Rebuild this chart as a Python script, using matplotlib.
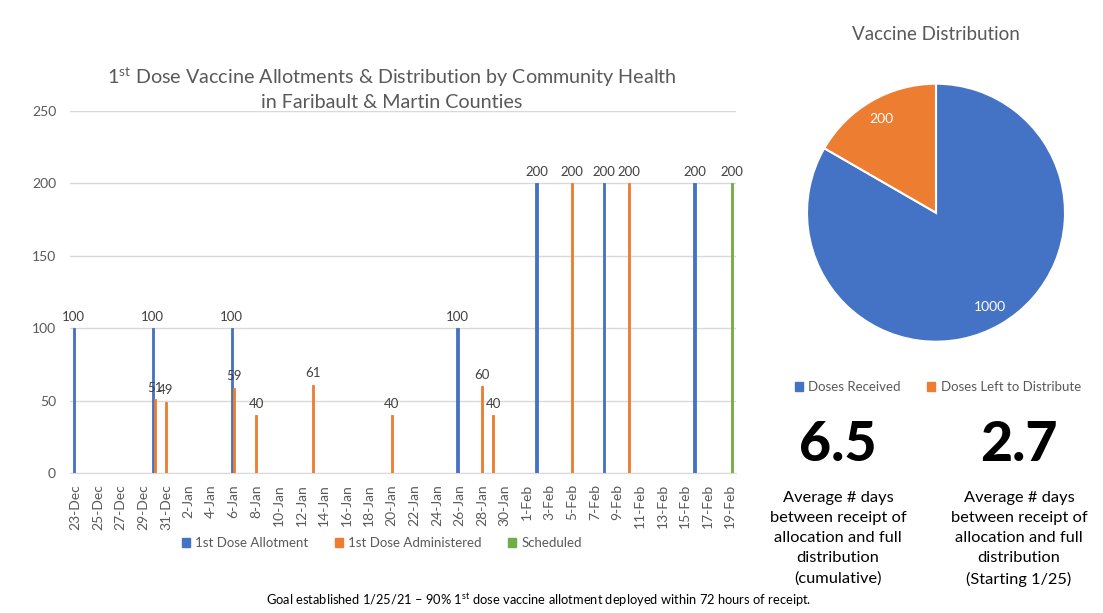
import matplotlib
matplotlib.use("Agg")
import matplotlib.pyplot as plt
from matplotlib.patches import Patch
import pandas as pd

# ---- data ----
categories = [d.strftime('%d-%b').lstrip('0') for d in pd.date_range('2020-12-23', '2021-02-19')]
allot_dates = ['23-Dec', '30-Dec', '6-Jan', '26-Jan', '2-Feb', '8-Feb', '16-Feb']
allot_vals = [100, 100, 100, 100, 200, 200, 200]
admin_dates = ['30-Dec', '31-Dec', '6-Jan', '8-Jan', '13-Jan', '20-Jan', '28-Jan', '29-Jan', '5-Feb', '10-Feb']
admin_vals = [51, 49, 59, 40, 61, 40, 60, 40, 200, 200]
sched_dates = ['19-Feb']
sched_vals = [200]
series_names = ['1st Dose Allotment', '1st Dose Administered', 'Scheduled']

pie_labels = ['Doses Received', 'Doses Left to Distribute']
pie_vals = [1000, 200]

stat_vals = ['6.5', '2.7']
stat_texts = ['Average # days\nbetween receipt of\nallocation and full\ndistribution\n(cumulative)',
              'Average # days\nbetween receipt of\nallocation and full\ndistribution\n(Starting 1/25)']

BLUE, ORANGE, GREEN = '#4472C4', '#ED7D31', '#70AD47'
GRAY = '#595959'

plt.rcParams['font.family'] = ['Lato', 'DejaVu Sans']
plt.rcParams['mathtext.fontset'] = 'custom'
plt.rcParams['mathtext.rm'] = 'Lato'
plt.rcParams['mathtext.it'] = 'Lato:italic'
plt.rcParams['mathtext.bf'] = 'Lato:bold'

W, H = 1103, 613
fig = plt.figure(figsize=(W / 100, H / 100), dpi=100)

def fx(x): return x / W
def fy(y): return 1 - y / H

# ---- bar chart ----
ax = fig.add_axes([fx(70), fy(473), fx(736) - fx(70), fy(111) - fy(473)])
idx = {c: i for i, c in enumerate(categories)}
bw = 0.2
for dates, vals, col, off in [(allot_dates, allot_vals, BLUE, -0.17),
                               (admin_dates, admin_vals, ORANGE, 0.0),
                               (sched_dates, sched_vals, GREEN, 0.15)]:
    xs = [idx[d] + off for d in dates]
    ax.bar(xs, vals, width=bw, color=col, edgecolor=col, linewidth=0.6, zorder=3)
    for x, v in zip(xs, vals):
        ax.annotate(str(v), (x, v), xytext=(0, 4), textcoords='offset points',
                    ha='center', va='bottom', fontsize=9.5, color='#404040')

ax.set_xlim(-0.5, len(categories) - 0.5)
ax.set_ylim(0, 250)
ax.set_yticks([0, 50, 100, 150, 200, 250])
ax.set_xticks(range(0, len(categories), 2))
ax.set_xticklabels(categories[::2], rotation=90, fontsize=10, color=GRAY)
ax.tick_params(axis='y', labelsize=10, colors=GRAY, length=0, pad=10)
ax.tick_params(axis='x', length=0, pad=8)
ax.grid(axis='y', color='#D9D9D9', linewidth=1, zorder=0)
for s in ['top', 'right', 'left']:
    ax.spines[s].set_visible(False)
ax.spines['bottom'].set_color('#D9D9D9')

fig.text(fx(392), fy(88), '1$^{\\mathrm{st}}$ Dose Vaccine Allotments & Distribution by Community Health\nin Faribault & Martin Counties',
         ha='center', va='center', fontsize=14.2, color=GRAY, linespacing=1.35)

handles = [Patch(color=c) for c in (BLUE, ORANGE, GREEN)]
fig.legend(handles, series_names, loc='center', bbox_to_anchor=(fx(382), fy(543)), ncol=3,
           frameon=False, fontsize=9.5, handlelength=0.6, handleheight=0.6, handletextpad=0.4,
           columnspacing=2.0, labelcolor=GRAY)

# ---- pie ----
r = 129
side = 2 * r * 1.02
pax = fig.add_axes([fx(936 - side / 2), fy(212.7 + side / 2), side / W, side / H])
pax.pie(pie_vals, colors=[BLUE, ORANGE], startangle=90, counterclock=False,
        labels=[str(v) for v in pie_vals], labeldistance=0.84,
        textprops=dict(color='white', fontsize=10, ha='center', va='center'),
        wedgeprops=dict(edgecolor='white', linewidth=1.5))
pax.set_xlim(-1.02, 1.02)
pax.set_ylim(-1.02, 1.02)
pax.set_aspect('equal')
fig.text(fx(936), fy(35), 'Vaccine Distribution', ha='center', va='center', fontsize=13.5, color=GRAY)
fig.legend([Patch(color=BLUE), Patch(color=ORANGE)], pie_labels, loc='center',
           bbox_to_anchor=(fx(938), fy(387)), ncol=2, frameon=False, fontsize=9.5,
           handlelength=0.6, handleheight=0.6, handletextpad=0.4, columnspacing=2.0, labelcolor=GRAY)

# ---- stats ----
for xc, val, txt in zip([838, 1019], stat_vals, stat_texts):
    fig.text(fx(xc), fy(445), val, ha='center', va='center', fontsize=40, fontweight='black', color='black')
    fig.text(fx(xc), fy(491), txt, ha='center', va='top', fontsize=11.8, color='black', linespacing=1.55)

fig.text(fx(539), fy(600), 'Goal established 1/25/21 \u2013 90% 1$^{\\mathrm{st}}$ dose vaccine allotment deployed within 72 hours of receipt.',
         ha='center', va='center', fontsize=9.3, color='black')

fig.savefig('out.png', dpi=100, facecolor='white')
